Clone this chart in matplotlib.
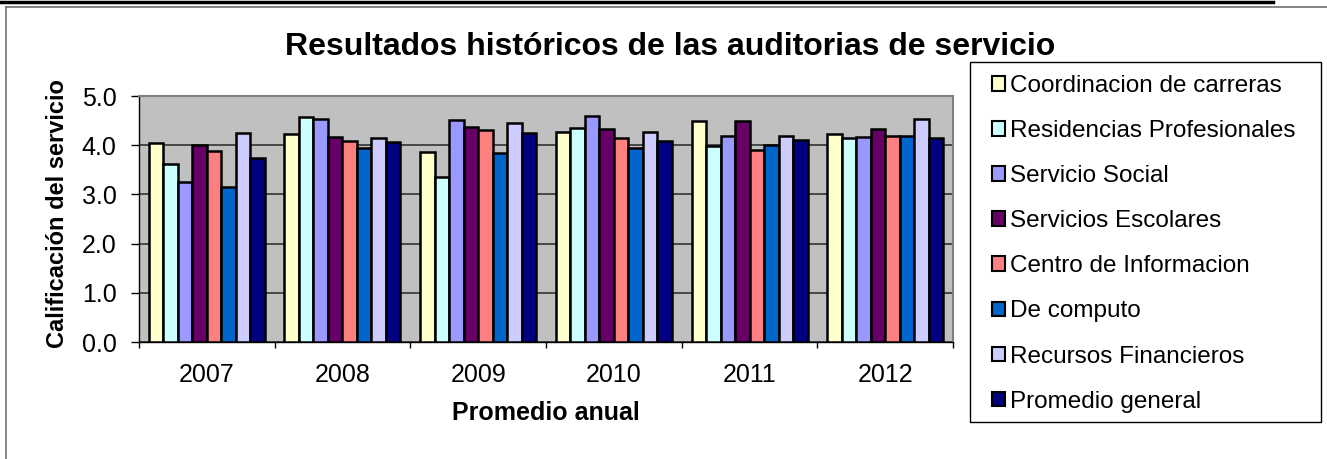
import numpy as np
import matplotlib.pyplot as plt
from matplotlib.lines import Line2D
from matplotlib.patches import Rectangle

plt.rcParams['font.family'] = ['Liberation Sans', 'DejaVu Sans']

# Datos
years = ['2007', '2008', '2009', '2010', '2011', '2012']
series_names = ['Coordinacion de carreras', 'Residencias Profesionales', 'Servicio Social',
                'Servicios Escolares', 'Centro de Informacion', 'De computo',
                'Recursos Financieros', 'Promedio general']
coordinacion = [4.04, 4.23, 3.87, 4.26, 4.49, 4.22]
residencias = [3.62, 4.57, 3.35, 4.34, 3.99, 4.14]
servicio_social = [3.26, 4.54, 4.52, 4.60, 4.19, 4.17]
escolares = [4.01, 4.16, 4.37, 4.33, 4.50, 4.33]
centro_info = [3.89, 4.08, 4.31, 4.14, 3.90, 4.19]
computo = [3.15, 3.94, 3.85, 3.94, 4.00, 4.19]
financieros = [4.25, 4.15, 4.46, 4.27, 4.19, 4.53]
promedio = [3.75, 4.07, 4.25, 4.08, 4.11, 4.15]

colors = ['#FFFFCC', '#CCFFFF', '#9999FF', '#660066', '#FF8080', '#0066CC', '#CCCCFF', '#000080']
all_series = [coordinacion, residencias, servicio_social, escolares,
              centro_info, computo, financieros, promedio]

W, H = 1327, 459
fig = plt.figure(figsize=(W / 100, H / 100), dpi=100)
ax = fig.add_axes([0.1047, 0.2549, 0.6135, 0.5359])
ax.set_facecolor('#C0C0C0')

x = np.arange(len(years))
n = len(all_series)
w = 0.855 / n
for i, (vals, col, name) in enumerate(zip(all_series, colors, series_names)):
    ax.bar(x - 0.4275 + w * (i + 0.5), vals, width=w, color=col,
           edgecolor='black', linewidth=1.8, label=name, zorder=3)

ax.set_xlim(-0.5, len(years) - 0.5)
ax.set_ylim(0, 5)
ax.set_yticks(np.arange(0, 5.01, 1.0))
ax.set_yticklabels([f'{v:.1f}' for v in np.arange(0, 5.01, 1.0)], fontsize=18)
ax.yaxis.grid(True, color='#333333', linewidth=1.2, zorder=0)
ax.set_axisbelow(True)

# ticks del eje x en los limites de categoria
ax.set_xticks(np.arange(-0.5, len(years) + 0.5, 1.0))
ax.set_xticklabels([])
ax.set_xticks(x, minor=True)
ax.set_xticklabels(years, minor=True, fontsize=18)
ax.tick_params(axis='x', which='minor', length=0, pad=15)
ax.tick_params(axis='x', which='major', length=4.5, width=1, direction='out')
ax.tick_params(axis='y', length=6, width=1, direction='out', pad=10)

for side in ['left', 'bottom']:
    ax.spines[side].set_color('black')
    ax.spines[side].set_linewidth(1.0)
for side in ['top', 'right']:
    ax.spines[side].set_color('#808080')
    ax.spines[side].set_linewidth(1.5)

ax.set_xlabel('Promedio anual', fontsize=18, fontweight='bold', labelpad=10)
ax.set_ylabel('Calificación del servicio', fontsize=17, fontweight='bold')
ax.yaxis.set_label_coords(-0.086, 0.522)
fig.text(0.505, 0.897, 'Resultados históricos de las auditorias de servicio',
         ha='center', va='center', fontsize=23, fontweight='bold')

# caja de la leyenda
fig.add_artist(Rectangle((970 / W, 1 - 422 / H), (1321 - 970) / W, (422 - 62) / H,
                         transform=fig.transFigure, facecolor='white',
                         edgecolor='black', linewidth=1.0, zorder=1))
leg = fig.legend(loc='upper left', bbox_to_anchor=(992 / W, 1 - 75 / H),
                 fontsize=17.5, frameon=False,
                 handlelength=0.55, handleheight=0.55, handletextpad=0.2,
                 labelspacing=0.95, borderpad=0, borderaxespad=0)
leg.set_zorder(2)
for p in leg.get_patches():
    p.set_linewidth(1.5)

# marco del objeto grafico y linea superior de la pagina
fig.add_artist(Line2D([0, 1273 / W], [1 - 2 / H, 1 - 2 / H],
                      transform=fig.transFigure, color='black', linewidth=2.5))
fig.add_artist(Line2D([6 / W, 1.0], [1 - 7 / H, 1 - 7 / H],
                      transform=fig.transFigure, color='#707070', linewidth=1.2))
fig.add_artist(Line2D([6 / W, 6 / W], [0, 1 - 7 / H],
                      transform=fig.transFigure, color='#707070', linewidth=1.2))

fig.savefig('out.png', dpi=100)
